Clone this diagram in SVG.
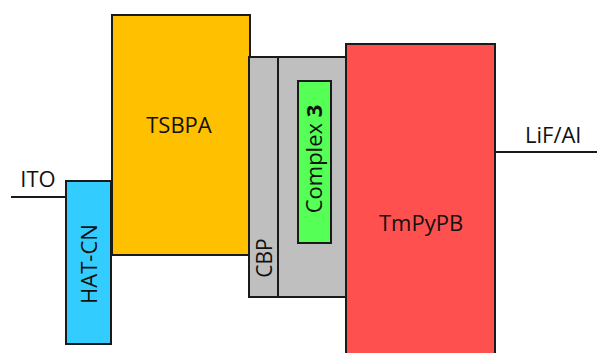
<svg xmlns="http://www.w3.org/2000/svg" width="597" height="353" viewBox="0 0 597 353">
<style>
rect{stroke:#1a1a1a;stroke-width:2}
.l{stroke:#1a1a1a;stroke-width:2;fill:none}
text{font-family:"Open Sans","Noto Sans",sans-serif;font-size:21px;fill:#111;text-anchor:middle}
</style>
<rect width="597" height="353" fill="#fff" style="stroke:none"/>
<g id="connectors">
<line class="l" x1="11" y1="197" x2="66" y2="197"/>
<line class="l" x1="495" y1="152" x2="597" y2="152"/>
</g>
<g id="ito"><text x="38" y="187" style="font-size:22px">ITO</text></g>
<g id="lifal"><text x="553" y="143" style="font-size:22px">LiF/Al</text></g>
<g id="tsbpa">
<rect x="112" y="15" width="138" height="240" fill="#FFC000"/>
<text x="179" y="133" style="font-size:22px">TSBPA</text>
</g>
<g id="hatcn">
<rect x="66" y="181" width="45" height="163" fill="#33CCFF"/>
<text transform="translate(97,264) rotate(-90)" style="font-size:22px">HAT-CN</text>
</g>
<g id="cbp">
<rect x="249" y="57" width="29" height="240" fill="#BFBFBF"/>
<text transform="translate(272,258) rotate(-90)">CBP</text>
</g>
<g id="host">
<rect x="278" y="57" width="68" height="240" fill="#BFBFBF"/>
</g>
<g id="complex3">
<rect x="298" y="81" width="33" height="162" fill="#55FF55"/>
<text transform="translate(322,159) rotate(-90)" style="font-size:22px">Complex <tspan font-weight="bold">3</tspan></text>
</g>
<g id="tmpypb">
<rect x="346" y="44" width="149" height="320" fill="#FF5050"/>
<text x="421" y="231" style="font-size:22px">TmPyPB</text>
</g>
</svg>
